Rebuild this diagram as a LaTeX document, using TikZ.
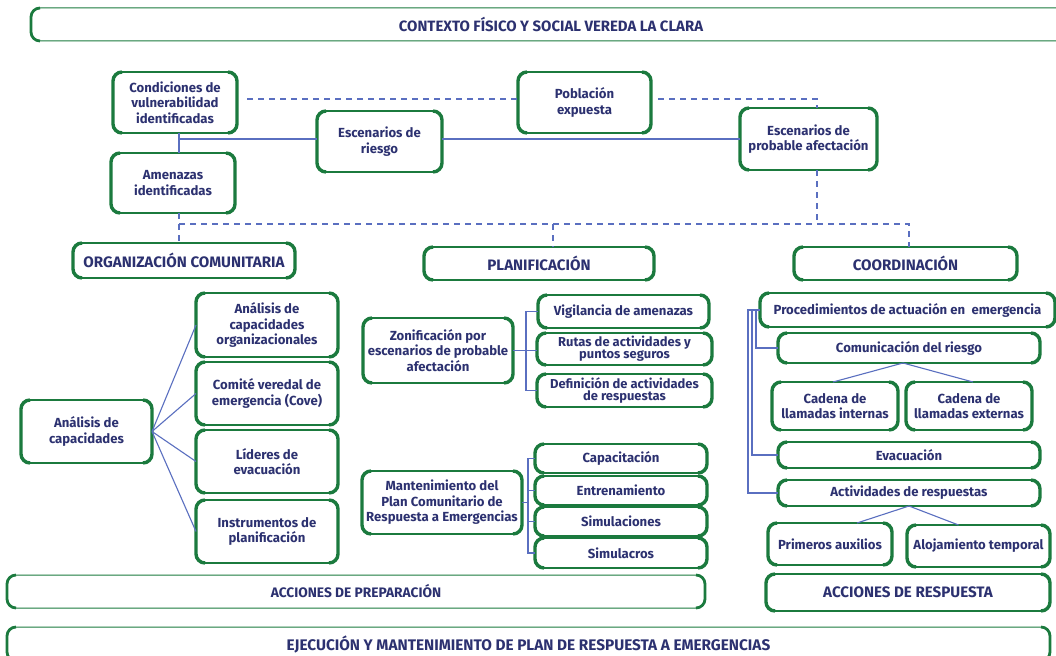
\documentclass[tikz,border=0pt]{standalone}
\usepackage{fontspec}
\setmainfont{Fira Sans}
\definecolor{gr}{HTML}{1B7A3E}
\definecolor{nv}{HTML}{2C3170}
\definecolor{bl}{HTML}{5A6FC0}
\def\rr{9bp}
\begin{document}
\begin{tikzpicture}[x=1bp,y=-1bp,
 bx/.style={draw=gr, line width=1.7bp, rounded corners=\rr, fill=white, align=center, text=nv,
   font=\bfseries\fontsize{13.2}{15.5}\selectfont, inner sep=1bp, outer sep=0pt},
 tight/.style={font=\bfseries\fontsize{13}{11.8}\selectfont},
 capsty/.style={font=\bfseries\fontsize{15.2}{17}\selectfont},
 ban/.style={bx, line width=1bp, font=\bfseries\fontsize{15}{17}\selectfont},
 ln/.style={draw=bl, line width=1.1bp},
 dl/.style={ln, dash pattern=on 6bp off 5bp},
 thickside/.style={draw=gr, line width=#1},
]
\clip (0,0) rectangle (1056,656);
\fill[white] (0,0) rectangle (1056,656);

% banners
\node[ban, minimum width=1040bp, minimum height=33bp] (ctx) at (551,24.5) {CONTEXTO FÍSICO Y SOCIAL VEREDA LA CLARA};
\node[ban, font=\bfseries\fontsize{13.8}{16}\selectfont, minimum width=698bp, minimum height=33bp] (prep) at (356,591.5) {ACCIONES DE PREPARACIÓN};
\node[ban, font=\bfseries\fontsize{15.4}{17}\selectfont, minimum width=1043bp, minimum height=34bp] (ejec) at (528.5,644) {EJECUCIÓN Y MANTENIMIENTO DE PLAN DE RESPUESTA A EMERGENCIAS};

% top area
\node[bx, minimum width=124bp, minimum height=61bp] (cond) at (175,102.5) {Condiciones de\\vulnerabilidad\\identificadas};
\node[bx, minimum width=124bp, minimum height=60bp] (amen) at (173,183) {Amenazas\\identificadas};
\node[bx, minimum width=125bp, minimum height=61bp] (riesgo) at (379.5,141.5) {Escenarios de\\riesgo};
\node[bx, minimum width=133bp, minimum height=61bp] (pob) at (584.5,102.5) {Población\\expuesta};
\node[bx, minimum width=137bp, minimum height=62bp] (prob) at (808.5,139) {Escenarios de\\probable afectación};
\node[bx, capsty, minimum width=222bp, minimum height=35bp] (org) at (184,260.5) {ORGANIZACIÓN COMUNITARIA};
\node[bx, capsty, minimum width=230bp, minimum height=33bp] (plan) at (539,263.5) {PLANIFICACIÓN};
\node[bx, capsty, minimum width=223bp, minimum height=33bp] (coord) at (905.5,263.5) {COORDINACIÓN};

% left column
\node[bx, minimum width=131bp, minimum height=63bp] (anal) at (86.5,431.5) {Análisis de\\capacidades};
\node[bx, minimum width=142bp, minimum height=64bp] (oc) at (267,325) {Análisis de\\capacidades\\organizacionales};
\node[bx, minimum width=142bp, minimum height=63bp] (cv) at (267,393.5) {Comité veredal de\\emergencia (Cove)};
\node[bx, minimum width=142bp, minimum height=63bp] (le) at (267,461.5) {Líderes de\\evacuación};
\node[bx, minimum width=142bp, minimum height=63bp] (ip) at (267,531.5) {Instrumentos de\\planificación};

% middle column
\node[bx, minimum width=150bp, minimum height=65bp] (zon) at (438,350.5) {Zonificación por\\escenarios de probable\\afectación};
\node[bx, minimum width=171bp, minimum height=33bp] (vig) at (623.5,311.5) {Vigilancia de amenazas};
\node[bx, tight, minimum width=175bp, minimum height=32bp] (rut) at (624.5,349) {Rutas de actividades y\\puntos seguros};
\node[bx, tight, minimum width=175bp, minimum height=33bp] (def) at (624.5,390.5) {Definición de actividades\\de respuestas};
\node[bx, minimum width=160bp, minimum height=63bp] (mant) at (442,502.5) {Mantenimiento del\\Plan Comunitario de\\Respuesta a Emergencias};
\node[bx, minimum width=172bp, minimum height=29bp] (capa) at (621,458.5) {Capacitación};
\node[bx, minimum width=172bp, minimum height=29bp] (ent) at (621,490.5) {Entrenamiento};
\node[bx, minimum width=172bp, minimum height=29bp] (simu) at (621,521.5) {Simulaciones};
\node[bx, minimum width=172bp, minimum height=30bp] (sims) at (621,553) {Simulacros};

% right column
\node[bx, minimum width=295bp, minimum height=34bp] (proc) at (907.5,310) {Procedimientos de actuación en\ \ emergencia};
\node[bx, minimum width=262bp, minimum height=30bp] (com) at (909,348) {Comunicación del riesgo};
\node[bx, minimum width=126bp, minimum height=48bp] (cin) at (835,406) {Cadena de\\llamadas internas};
\node[bx, minimum width=126bp, minimum height=48bp] (cex) at (969,406) {Cadena de\\llamadas externas};
\node[bx, minimum width=262bp, minimum height=26bp] (evac) at (909,455) {Evacuación};
\node[bx, minimum width=262bp, minimum height=26bp] (act) at (909,493) {Actividades de respuestas};
\node[bx, minimum width=124bp, minimum height=42bp] (prim) at (830,544) {Primeros auxilios};
\node[bx, minimum width=143bp, minimum height=42bp] (aloj) at (978.5,546) {Alojamiento temporal};
\node[bx, capsty, minimum width=284bp, minimum height=37bp] (resp) at (908,592.5) {ACCIONES DE RESPUESTA};

% thick sides
\foreach \n/\w in {ctx/2.8bp,prep/2.8bp,ejec/2.8bp,cond/3.4bp,amen/3.4bp,riesgo/3.4bp,pob/3.4bp,prob/3.4bp,org/3.4bp,plan/3.4bp,coord/3.4bp,
  anal/3.4bp,oc/3.4bp,cv/3.4bp,le/3.4bp,ip/3.4bp,zon/3.4bp,vig/3.4bp,rut/3.4bp,def/3.4bp,mant/3.4bp,capa/3.4bp,ent/3.4bp,simu/3.4bp,sims/3.4bp,
  proc/3.4bp,com/3.4bp,cin/3.4bp,cex/3.4bp,evac/3.4bp,act/3.4bp,prim/3.4bp,aloj/3.4bp,resp/3.4bp}{
  \draw[thickside=\w] ([xshift=\rr]\n.north west) arc[start angle=90,end angle=180,radius=\rr]
     -- ([yshift=\rr]\n.south west) arc[start angle=180,end angle=270,radius=\rr];
  \draw[thickside=\w] ([xshift=-\rr]\n.north east) arc[start angle=90,end angle=0,radius=\rr]
     -- ([yshift=\rr]\n.south east) arc[start angle=0,end angle=-90,radius=\rr];
}

% connectors top
\coordinate (j1) at (179,139);
\draw[ln] ([xshift=4bp]cond.south) -- ([xshift=4bp]cond.south |- amen.north);
\draw[ln] (j1) -- (j1 -| riesgo.west);
\draw[ln] (riesgo.east |- j1) -- (prob.west |- j1);
\coordinate (d1) at (247,99);
\draw[dl] (d1) -- (d1 -| pob.west);
\draw[dl] ([xshift=7bp]pob.east |- d1) -| ([xshift=8.5bp]prob.north);
\coordinate (hl) at (179,224);
\draw[dl] (amen.south -| hl) -- (org.north -| hl);
\draw[dl] (hl) -- ([xshift=3.5bp]coord.north |- hl) -- ([xshift=3.5bp]coord.north);
\draw[dl] ([xshift=8.5bp]prob.south) -- ([xshift=8.5bp]prob.south |- hl);
\draw[dl] ([xshift=14bp]plan.north |- hl) -- ([xshift=14bp]plan.north);

% left fan
\foreach \t in {oc,cv,le,ip} \draw[ln] (anal.east) -- (\t.west);

% middle forks
\coordinate (zb) at (526,0);
\draw[ln] (vig.west) -- (vig.west -| zb) -- (def.west -| zb) -- (def.west);
\draw[ln] (zon.east) -- (zon.east -| rut.west);
\coordinate (mb) at (528,0);
\draw[ln] (capa.west) -- (capa.west -| mb) -- (sims.west -| mb) -- (sims.west);
\draw[ln] (ent.west -| mb) -- (ent.west);
\draw[ln] (simu.west -| mb) -- (simu.west);
\draw[ln] (mant.east) -- (mant.east -| mb);

% right column connectors
\coordinate (r1) at (748,0);
\coordinate (r2) at (752,0);
\coordinate (r3) at (756,0);
\draw[ln] (proc.west) -- (proc.west -| r1) -- (r1 |- act.west) -- (act.west);
\draw[ln] (proc.west -| r2) -- (r2 |- evac.west) -- (evac.west);
\draw[ln] (proc.west -| r3) -- (r3 |- com.west) -- (com.west);
\draw[ln] ([xshift=-6bp]com.south) -- ([xshift=-2bp]cin.north);
\draw[ln] ([xshift=-6bp]com.south) -- ([xshift=4bp]cex.north);
\draw[ln] (act.south) -- ([xshift=27bp]prim.north);
\draw[ln] (act.south) -- ([xshift=-20bp]aloj.north);
\end{tikzpicture}
\end{document}
